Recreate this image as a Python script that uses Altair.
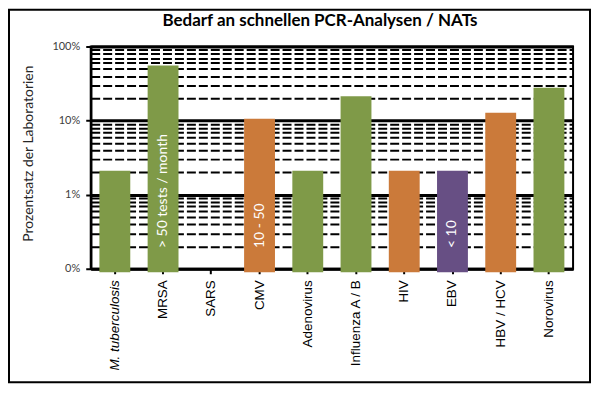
import altair as alt
import pandas as pd

categories = ["M. tuberculosis", "MRSA", "SARS", "CMV", "Adenovirus",
              "Influenza A / B", "HIV", "EBV", "HBV / HCV", "Norovirus"]
values = [0.021, 0.553, 0.0, 0.106, 0.021, 0.213, 0.021, 0.021, 0.128, 0.277]
groups = ["> 50", "> 50", "> 50", "10 - 50", "> 50", "> 50", "10 - 50", "< 10", "10 - 50", "> 50"]
bar_labels = ["", "> 50 tests / month", "", "10 - 50", "", "", "", "< 10", "", ""]

group_domain = ["> 50", "10 - 50", "< 10"]
group_colors = ["#7F9A48", "#CB7A3A", "#674F84"]

major_ticks = [0.001, 0.01, 0.1, 1]
minor_mult = [2, 3, 4, 5, 6, 7, 8, 9]
tick_values = sorted(major_ticks + [m * d for d in [0.001, 0.01, 0.1] for m in minor_mult])

title_text = "Bedarf an schnellen PCR-Analysen / NATs"
y_title = "Prozentsatz der Laboratorien"

df = pd.DataFrame({"cat": categories, "value": values, "group": groups, "label": bar_labels})

is_major = "datum.value == 1 || datum.value == 0.1 || datum.value == 0.01 || datum.value == 0.001"

x_scale = alt.Scale(domain=categories, paddingInner=0.36, paddingOuter=0.18)

x_enc = alt.X("cat:N", sort=categories, scale=x_scale,
              axis=alt.Axis(title=None, labelAngle=270, labelFont="Liberation Sans",
                            labelFontSize=13.5, labelColor="#000000", labelPadding=6,
                            labelFontStyle=alt.condition("datum.value == 'M. tuberculosis'",
                                                         alt.value("italic"), alt.value("normal")),
                            tickColor="#000000", tickSize=5, tickWidth=2,
                            domainColor="#000000", domainWidth=2.5, grid=False))

y_scale = alt.Scale(type="log", domain=[0.001, 1], nice=False)

bars = alt.Chart(df).transform_filter("datum.value > 0").mark_bar().encode(
    x=x_enc,
    y=alt.Y("value:Q", scale=y_scale,
            axis=alt.Axis(values=tick_values,
                          labelExpr="datum.value == 1 ? '100%' : datum.value == 0.1 ? '10%' : datum.value == 0.01 ? '1%' : datum.value == 0.001 ? '0%' : ''",
                          labelFont="Lato", labelFontSize=11, labelColor="#404040",
                          labelPadding=6,
                          tickSize=5, tickWidth=2, tickColor="#000000",
                          tickOpacity=alt.condition(is_major, alt.value(1), alt.value(0)),
                          domainColor="#000000", domainWidth=2.5,
                          grid=True, gridColor="#000000", gridOpacity=1,
                          gridWidth=alt.condition(is_major, alt.value(3), alt.value(2)),
                          gridDash=alt.condition(is_major, alt.value([]), alt.value([9, 3])),
                          title=y_title, titleFont="Lato", titleFontSize=14,
                          titleFontWeight="normal", titleColor="#262626",
                          titleAngle=270, titleAlign="center", titleBaseline="alphabetic",
                          titleX=-58, titleY=107)),
    y2=alt.datum(0.0009),
    color=alt.Color("group:N", scale=alt.Scale(domain=group_domain, range=group_colors),
                    legend=None),
)

texts = alt.Chart(df).transform_filter("datum.label != ''").mark_text(
    angle=270, align="left", baseline="middle", font="Lato", fontSize=14, color="white"
).encode(
    x=alt.X("cat:N", sort=categories, scale=x_scale),
    y=alt.datum(0.0019),
    text="label:N",
)

title = alt.Chart(pd.DataFrame({"t": [title_text]})).mark_text(
    font="Lato", fontSize=17, fontWeight="bold", color="#000000",
    align="center", baseline="alphabetic"
).encode(text="t:N", x=alt.value(230), y=alt.value(-21))

border = alt.Chart(pd.DataFrame({"a": [0]})).mark_rect(
    filled=False, stroke="#000000", strokeWidth=2
).encode(x=alt.value(-82), x2=alt.value(501), y=alt.value(-37), y2=alt.value(337))

chart = alt.layer(bars, texts, title, border).properties(
    width=484, height=223,
    autosize=alt.AutoSizeParams(type="none"),
    padding={"left": 83, "top": 38, "right": 19, "bottom": 116},
    background="white",
).configure_view(stroke="#000000", strokeWidth=2)

chart.save("out.html", embed_options={"renderer": "svg", "actions": False})
